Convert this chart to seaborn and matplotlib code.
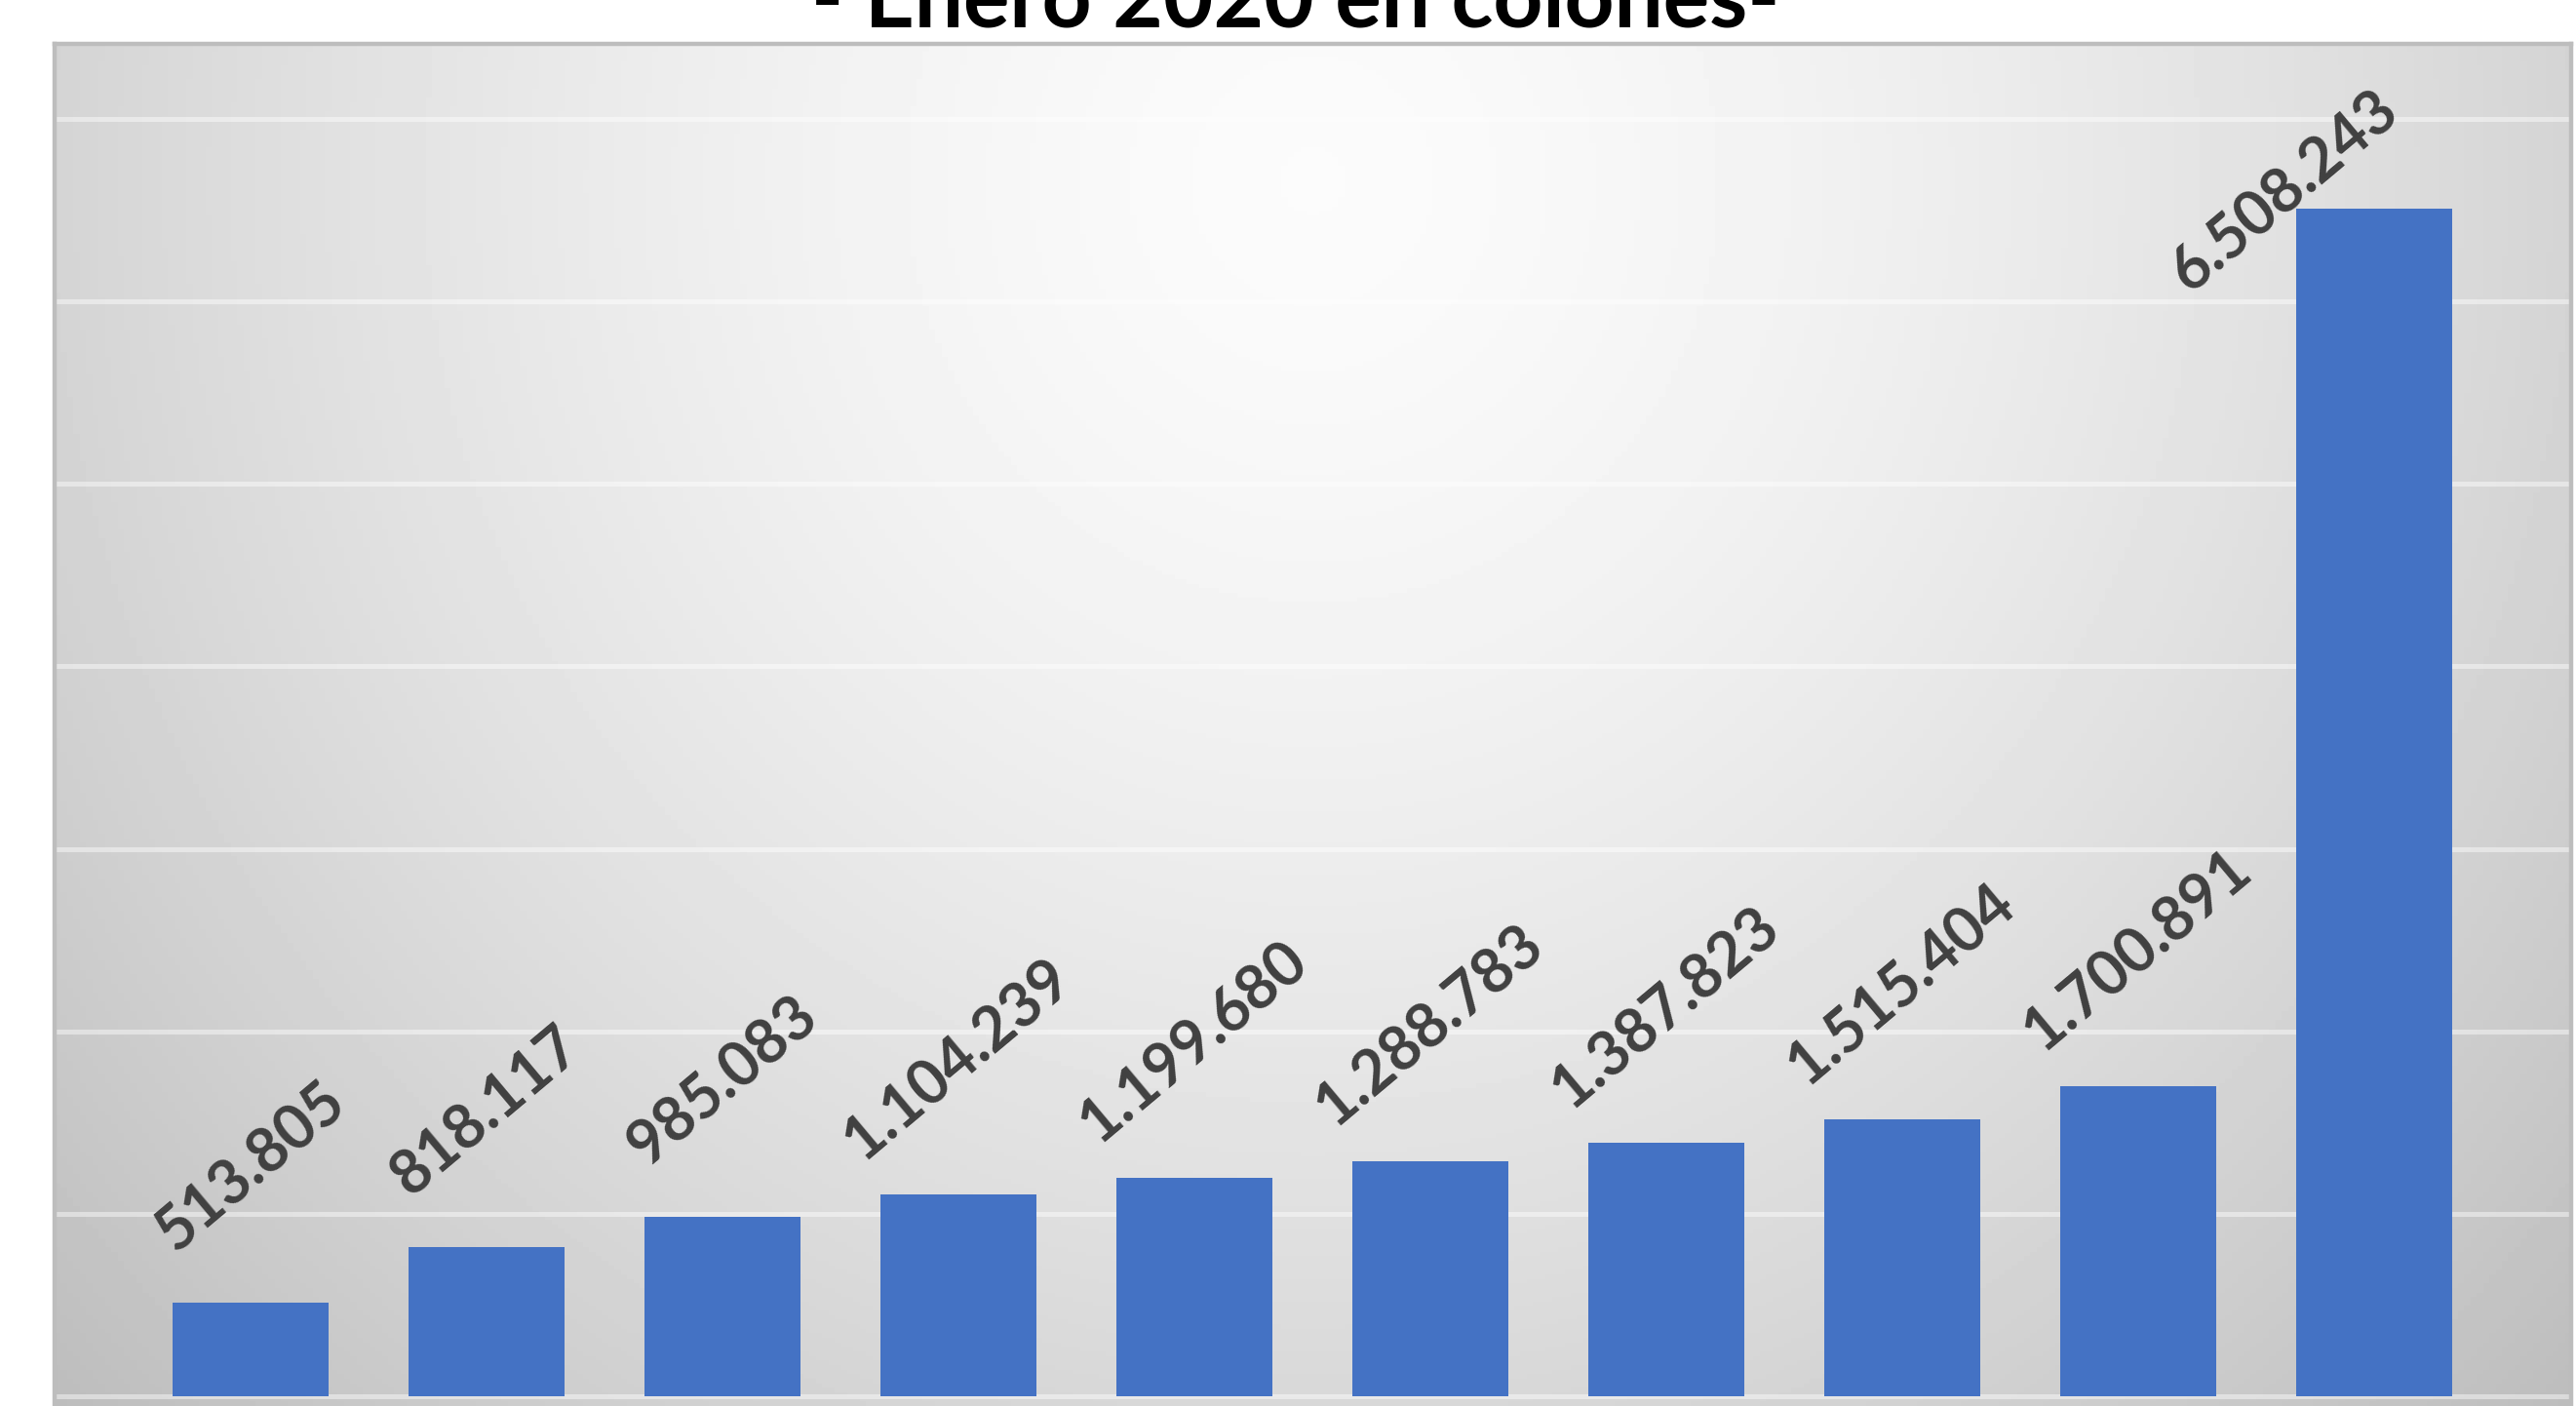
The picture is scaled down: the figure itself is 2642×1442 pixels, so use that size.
import numpy as np
import pandas as pd
import seaborn as sns
import matplotlib.pyplot as plt

# data
deciles = ['I', 'II', 'III', 'IV', 'V', 'VI', 'VII', 'VIII', 'IX', 'X']
ingreso = [513805, 818117, 985083, 1104239, 1199680, 1288783,
           1387823, 1515404, 1700891, 6508243]
etiquetas = ['513.805', '818.117', '985.083', '1.104.239', '1.199.680',
             '1.288.783', '1.387.823', '1.515.404', '1.700.891', '6.508.243']
titulo = '- Enero 2020 en colones-'

df = pd.DataFrame({'decil': deciles, 'ingreso': ingreso})

sns.set_style('white')
plt.rcParams['font.family'] = ['Lato', 'DejaVu Sans']

fig = plt.figure(figsize=(13.21, 7.21), dpi=200)
ax = fig.add_axes([0.0212, 0.0, 0.9769, 0.9688])

# gradient background like the excel chart area
gx, gy = np.meshgrid(np.linspace(0, 1, 400), np.linspace(0, 1, 300))
r = np.sqrt(((gx - 0.5) / 0.6) ** 2 + ((gy - 0.9) / 1.15) ** 2)
bg = np.clip(0.985 - 0.2 * r ** 1.5, 0, 1)
ax.imshow(bg, extent=[0, 1, 0, 1], transform=ax.transAxes, aspect='auto',
          cmap='gray', vmin=0, vmax=1, zorder=-2, origin='lower')

sns.barplot(data=df, x='decil', y='ingreso', color='#4472C4', width=0.66,
            saturation=1, linewidth=0, ax=ax, zorder=2)

ax.set_xlim(-0.832, 9.836)
ax.set_ylim(-53000, 7410000)
ax.set_yticks(np.arange(0, 7000001, 1000000))
ax.set_axisbelow(True)
ax.yaxis.grid(True, color='white', linewidth=1.8, alpha=0.45)
ax.tick_params(left=False, labelleft=False, bottom=False, labelbottom=False)
ax.set_xlabel('')
ax.set_ylabel('')
for s in ['top', 'left', 'right']:
    ax.spines[s].set_color('#bdbdbd')
    ax.spines[s].set_linewidth(1.6)
ax.spines['bottom'].set_visible(False)

# value labels, rotated like in the original
for i, (v, t) in enumerate(zip(ingreso, etiquetas)):
    off = (0, 50)
    if i == len(ingreso) - 1:
        off = (-33, 6)
    ax.annotate(t, xy=(i, v), xytext=off, textcoords='offset points',
                ha='center', va='center', rotation=40, rotation_mode='anchor',
                fontsize=22.5, fontweight='bold', color='#404040', zorder=3)

fig.text(0.503, 1 - 27 / 1442, titulo, ha='center', va='baseline',
         fontsize=32, fontweight='bold', color='black')

plt.savefig('out.png', dpi=200)
